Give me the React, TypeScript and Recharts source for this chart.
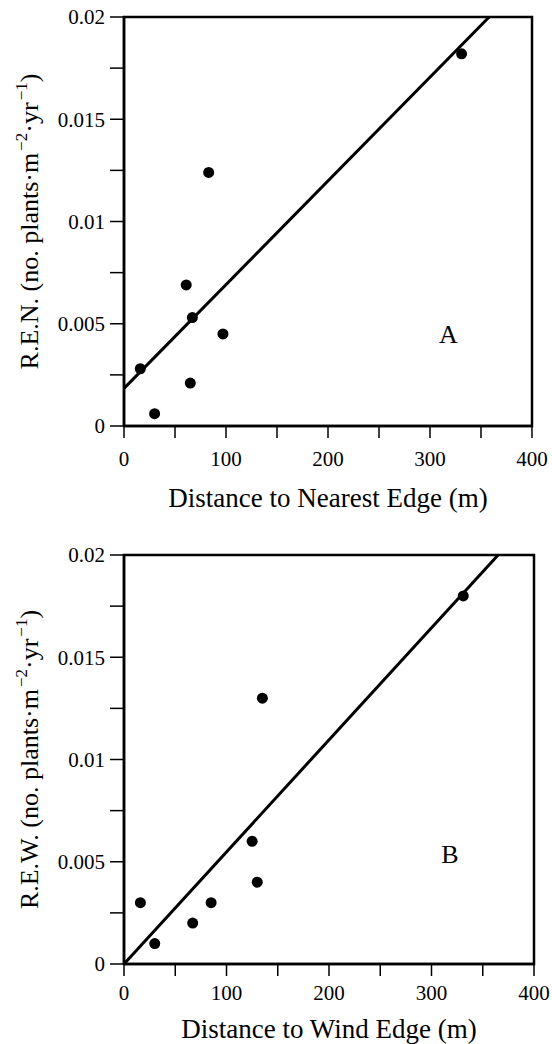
import {
  ComposedChart,
  Scatter,
  XAxis,
  YAxis,
  ReferenceLine,
  ReferenceArea,
  ReferenceDot,
} from "recharts";

const FONT = '"Liberation Serif", "Times New Roman", serif';

// axis ticks shared by both panels (unlabelled minor ticks in between)
const xTicks = [0, 50, 100, 150, 200, 250, 300, 350, 400];
const xTickLabels = ["0", "", "100", "", "200", "", "300", "", "400"];
const yTicks = [0, 0.0025, 0.005, 0.0075, 0.01, 0.0125, 0.015, 0.0175, 0.02];
const yTickLabels = ["0", "", "0.005", "", "0.01", "", "0.015", "", "0.02"];

// panel A: distance to nearest edge vs R.E.N.
const nearestDistance = [16, 30, 61, 65, 67, 83, 97, 331];
const renValues = [0.0028, 0.0006, 0.0069, 0.0021, 0.0053, 0.0124, 0.0045, 0.0182];
const fitA = [
  { x: 0, y: 0.00184 },
  { x: 358, y: 0.02 },
];

// panel B: distance to wind edge vs R.E.W.
const windDistance = [16, 30, 67, 85, 125, 130, 135, 331];
const rewValues = [0.003, 0.001, 0.002, 0.003, 0.006, 0.004, 0.013, 0.018];
const fitB = [
  { x: 0, y: 0 },
  { x: 365, y: 0.02 },
];

const pointsA = nearestDistance.map((x, i) => ({ x, y: renValues[i] }));
const pointsB = windDistance.map((x, i) => ({ x, y: rewValues[i] }));

const Dot = (p: any) => <circle cx={p.cx} cy={p.cy} r={5.5} fill="#000" />;

function XTick({ x, y, payload }: any) {
  const label = xTickLabels[xTicks.indexOf(payload.value)];
  return (
    <text x={x} y={y} dy="0.71em" textAnchor="middle" fontFamily={FONT} fontSize={21} fill="#000">
      {label}
    </text>
  );
}

function YTick({ x, y, payload }: any) {
  const label = yTickLabels[yTicks.indexOf(payload.value)];
  return (
    <text x={x} y={y} dy="0.355em" textAnchor="end" fontFamily={FONT} fontSize={21} fill="#000">
      {label}
    </text>
  );
}

function YTitle({ viewBox, name }: any) {
  const cx = 38;
  const cy = viewBox.y + viewBox.height / 2;
  return (
    <text
      x={cx}
      y={cy}
      transform={`rotate(-90, ${cx}, ${cy})`}
      textAnchor="middle"
      fontFamily={FONT}
      fontSize={26}
      fill="#000"
    >
      {name} (no. plants·m
      <tspan fontSize={17} dy={-11} dx={2}>
        −2
      </tspan>
      <tspan dy={11}>·yr</tspan>
      <tspan fontSize={17} dy={-11} dx={2}>
        −1
      </tspan>
      <tspan dy={11}>)</tspan>
    </text>
  );
}

function XTitle({ viewBox, value, baseline }: any) {
  return (
    <text
      x={viewBox.x + viewBox.width / 2}
      y={viewBox.y + baseline}
      textAnchor="middle"
      fontFamily={FONT}
      fontSize={27}
      fill="#000"
    >
      {value}
    </text>
  );
}

interface PanelProps {
  points: { x: number; y: number }[];
  fit: { x: number; y: number }[];
  letter: string;
  letterPos: { x: number; y: number };
  yName: string;
  xTitle: string;
  height: number;
  top: number;
  right: number;
  tickMargin: number;
  titleBaseline: number;
}

function Panel({
  points,
  fit,
  letter,
  letterPos,
  yName,
  xTitle,
  height,
  top,
  right,
  tickMargin,
  titleBaseline,
}: PanelProps) {
  return (
    <ComposedChart
      width={552}
      height={height}
      margin={{ top, right, bottom: 0, left: 0 }}
      style={{ fontFamily: FONT }}
    >
      <XAxis
        type="number"
        dataKey="x"
        domain={[0, 400]}
        ticks={xTicks}
        interval={0}
        allowDataOverflow
        height={height - top - 409}
        tickSize={12}
        tickMargin={tickMargin}
        tick={<XTick />}
        axisLine={{ stroke: "#000", strokeWidth: 2.5 }}
        tickLine={{ stroke: "#000", strokeWidth: 1.5 }}
        label={(props: any) => (
          <XTitle {...props} value={xTitle} baseline={titleBaseline} />
        )}
      />
      <YAxis
        type="number"
        dataKey="y"
        domain={[0, 0.02]}
        ticks={yTicks}
        interval={0}
        allowDataOverflow
        width={124}
        tickSize={14}
        tickMargin={5}
        tick={<YTick />}
        axisLine={{ stroke: "#000", strokeWidth: 2.5 }}
        tickLine={{ stroke: "#000", strokeWidth: 1.5 }}
        label={(props: any) => <YTitle {...props} name={yName} />}
      />
      <ReferenceArea
        x1={0}
        x2={400}
        y1={0}
        y2={0.02}
        fill="none"
        stroke="#000"
        strokeWidth={2.5}
        fillOpacity={0}
      />
      <ReferenceLine
        segment={fit}
        stroke="#000"
        strokeWidth={3}
        ifOverflow="visible"
      />
      <Scatter data={points} shape={Dot} isAnimationActive={false} />
      <ReferenceDot
        x={letterPos.x}
        y={letterPos.y}
        r={0}
        fill="none"
        stroke="none"
        label={{
          value: letter,
          position: "center",
          fontFamily: FONT,
          fontSize: 26,
          fill: "#000",
        }}
      />
    </ComposedChart>
  );
}

export default function App() {
  return (
    <div
      style={{
        position: "absolute",
        left: 0,
        top: 0,
        width: 552,
        height: 1044,
        background: "#fff",
        fontFamily: FONT,
      }}
    >
      <Panel
        points={pointsA}
        fit={fitA}
        letter="A"
        letterPos={{ x: 318, y: 0.0045 }}
        yName="R.E.N."
        xTitle="Distance to Nearest Edge (m)"
        height={520}
        top={17}
        right={20}
        tickMargin={13}
        titleBaseline={81}
      />
      <Panel
        points={pointsB}
        fit={fitB}
        letter="B"
        letterPos={{ x: 318, y: 0.0054 }}
        yName="R.E.W."
        xTitle="Distance to Wind Edge (m)"
        height={524}
        top={35}
        right={18}
        tickMargin={9}
        titleBaseline={74}
      />
    </div>
  );
}
